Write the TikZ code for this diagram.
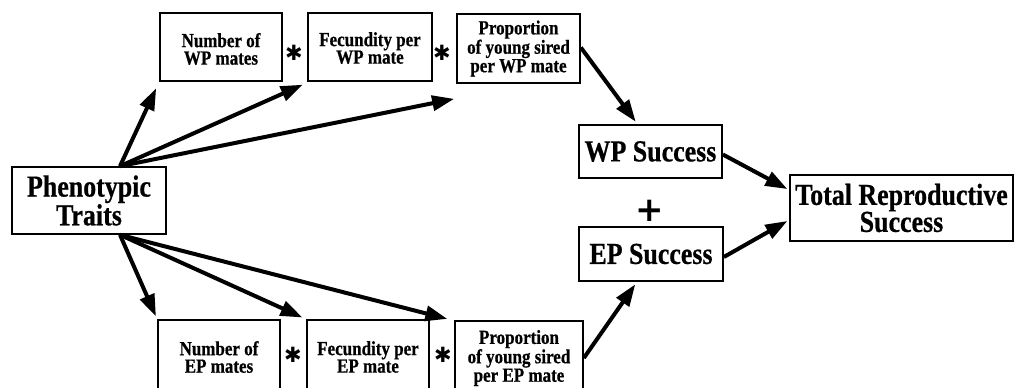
\documentclass[tikz,border=0pt]{standalone}
\usepackage{fontspec}
\setmainfont{Liberation Serif}[FakeStretch=0.85, BoldFeatures={FakeBold=0.6}]
\newfontfamily\symfont{DejaVu Sans}
\usetikzlibrary{arrows.meta,calc}
\begin{document}
\begin{tikzpicture}[x=1pt,y=-1pt,
  box/.style={draw, line width=1.7pt, align=center, inner sep=0pt},
  small/.style={font=\bfseries\fontsize{20}{17.5}\selectfont},
  big/.style={font=\bfseries\fontsize{30.5}{27}\selectfont},
  arr/.style={line width=4pt, -{Triangle[length=22pt,width=15pt]}},
  star/.style={inner sep=0pt, font=\symfont\fontsize{21}{21}\selectfont},
  op/.style={inner sep=0pt}]
\useasboundingbox (0,0) rectangle (1017,388);
\clip (0,0) rectangle (1017,388);

\node[box,big,minimum width=154pt,minimum height=67pt] (P) at (89,200.5) {Phenotypic\\Traits};
\node[box,small,minimum width=122pt,minimum height=68pt] (N1) at (221,47) {\rule{0pt}{18pt}Number of\\WP mates};
\node[box,small,minimum width=124pt,minimum height=68pt] (F1) at (370,47) {\rule{0pt}{16pt}Fecundity per\\WP mate};
\node[box,small,minimum width=123pt,minimum height=69pt] (R1) at (518.5,48.5) {Proportion\\of young sired\\per WP mate};
\node[box,big,minimum width=143pt,minimum height=53pt] (WS) at (650.5,151.5) {WP Success};
\node[box,big,minimum width=144pt,minimum height=54pt] (ES) at (651,254) {EP Success};
\node[box,big,minimum width=223pt,minimum height=66pt] (T) at (901.5,208) {Total Reproductive\\Success};
\node[box,small,minimum width=122pt,minimum height=74pt] (N2) at (219,357) {Number of\\EP mates};
\node[box,small,minimum width=122pt,minimum height=74pt] (F2) at (368,357) {Fecundity per\\EP mate};
\node[box,small,minimum width=128pt,minimum height=74pt] (R2) at (519,358) {Proportion\\of young sired\\per EP mate};

\node[star] (s1) at (294,53) {✱};
\node[star] (s2) at (442,53) {✱};
\node[star] (s3) at (293,355) {✱};
\node[star] (s4) at (443,355) {✱};
\node[op,font=\symfont\bfseries\fontsize{34}{34}\selectfont] (plus) at (650,211) {+};

\draw[arr,shorten >=7pt] ([xshift=31pt]P.north) -- (N1.south west);
\draw[arr,shorten >=7pt] ([xshift=31pt]P.north) -- ([xshift=2pt]F1.south west);
\draw[arr] ([xshift=31pt]P.north) -- ([xshift=-2pt,yshift=-15pt]R1.south west);
\draw[arr,shorten >=3pt] ([xshift=31pt]P.south) -- (N2.north west);
\draw[arr,shorten >=4pt] ([xshift=31pt]P.south) -- (F2.north west);
\draw[arr,shorten >=5pt] ([xshift=31pt]P.south) -- ([xshift=-2pt]R2.north west);
\draw[arr,shorten >=3pt] ([yshift=1pt]R1.east) -- ([xshift=-13pt]WS.north);
\draw[arr,shorten >=3pt] (R2.east) -- ([xshift=-14pt]ES.south);
\draw[arr,shorten >=2pt] ([yshift=-3pt]WS.east) -- ([yshift=18pt]T.west);
\draw[arr,shorten >=2pt] ([yshift=-3pt]ES.east) -- ([yshift=-12pt]T.west);
\end{tikzpicture}
\end{document}
